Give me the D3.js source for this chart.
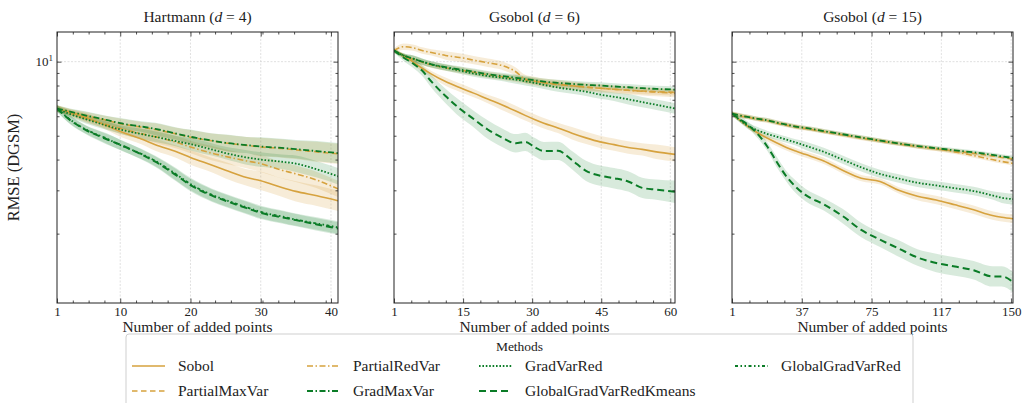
<!DOCTYPE html>
<html>
<head>
<meta charset="utf-8">
<script src="https://cdnjs.cloudflare.com/ajax/libs/d3/7.8.5/d3.min.js"></script>
<style>
  body { margin: 0; background: #fff; }
  svg text { font-family: "Liberation Serif", "Times New Roman", serif !important; fill: #222; }
</style>
</head>
<body>
<script>
// methods, in legend order
var methods = ["Sobol", "PartialMaxVar", "PartialRedVar", "GradMaxVar",
               "GradVarRed", "GlobalGradVarRedKmeans", "GlobalGradVarRed"];

var panelNames = ["Hartmann", "Gsobol", "Gsobol"];
var panelDims = ["4", "6", "15"];

// Hartmann (d = 4)
var xHartmann = [1, 3, 5, 8, 10, 13, 15, 18, 20, 23, 25, 28, 30, 33, 35, 38, 41];
var rmseHartmann = [
  [6.45, 6.2, 5.95, 5.5, 5.2, 4.85, 4.6, 4.3, 4.08, 3.8, 3.62, 3.38, 3.28, 3.08, 2.97, 2.85, 2.72],
  [6.45, 6.22, 6.02, 5.78, 5.6, 5.42, 5.3, 5.08, 4.93, 4.77, 4.67, 4.57, 4.5, 4.44, 4.38, 4.3, 4.22],
  [6.45, 6.15, 5.9, 5.55, 5.35, 5.1, 4.95, 4.7, 4.5, 4.25, 4.12, 3.95, 3.85, 3.62, 3.5, 3.3, 3.04],
  [6.45, 6.25, 6.05, 5.8, 5.62, 5.45, 5.33, 5.1, 4.95, 4.78, 4.68, 4.58, 4.52, 4.46, 4.41, 4.33, 4.25],
  [6.45, 6.1, 5.85, 5.5, 5.3, 5.08, 4.95, 4.75, 4.62, 4.4, 4.25, 4.08, 4.0, 3.92, 3.85, 3.65, 3.42],
  [6.45, 5.75, 5.3, 4.85, 4.6, 4.2, 3.92, 3.45, 3.15, 2.86, 2.72, 2.54, 2.43, 2.33, 2.27, 2.18, 2.1],
  [6.45, 5.78, 5.32, 4.88, 4.58, 4.22, 3.95, 3.48, 3.18, 2.88, 2.74, 2.56, 2.45, 2.35, 2.28, 2.2, 2.12]
];
// spread of the band, in percent
var sdHartmann = [
  [3, 3, 4, 4, 5, 5, 6, 6, 7, 7, 8, 8, 9, 9, 10, 10, 10],
  [3, 3, 4, 4, 5, 5, 6, 6, 7, 7, 8, 8, 9, 9, 9, 10, 10],
  [3, 3, 4, 4, 5, 5, 6, 6, 6, 7, 7, 7, 8, 8, 8, 8, 8],
  [3, 3, 4, 4, 5, 5, 6, 6, 7, 7, 8, 8, 9, 9, 9, 10, 10],
  [3, 3, 4, 4, 4, 5, 5, 5, 6, 6, 6, 7, 7, 7, 8, 8, 8],
  [3, 4, 4, 5, 5, 5, 5, 6, 6, 6, 6, 6, 6, 6, 6, 6, 6],
  [3, 4, 4, 5, 5, 5, 5, 6, 6, 6, 6, 6, 6, 6, 6, 6, 6]
];

// Gsobol (d = 6)
var xGsobol6 = [1, 3, 5, 7, 9, 12, 15, 18, 21, 24, 27, 29, 31, 33, 36, 39, 42, 45, 48, 51, 54, 57, 61];
var rmseGsobol6 = [
  [11.1, 10.6, 10.0, 9.4, 8.9, 8.3, 7.85, 7.45, 7.05, 6.68, 6.3, 6.05, 5.82, 5.62, 5.38, 5.12, 4.9, 4.72, 4.6, 4.48, 4.4, 4.3, 4.2],
  [11.1, 10.55, 10.25, 9.95, 9.7, 9.45, 9.25, 9.05, 8.85, 8.68, 8.52, 8.42, 8.32, 8.2, 8.08, 7.98, 7.88, 7.8, 7.72, 7.65, 7.6, 7.55, 7.5],
  [11.1, 11.5, 11.4, 11.1, 10.9, 10.6, 10.4, 10.15, 9.9, 9.65, 9.1, 8.5, 8.35, 8.22, 8.1, 7.98, 7.88, 7.8, 7.72, 7.65, 7.58, 7.52, 7.45],
  [11.1, 10.6, 10.3, 10.0, 9.75, 9.5, 9.3, 9.1, 8.9, 8.75, 8.6, 8.5, 8.4, 8.3, 8.2, 8.12, 8.05, 8.0, 7.93, 7.87, 7.8, 7.75, 7.7],
  [11.1, 10.6, 10.3, 10.0, 9.75, 9.45, 9.2, 8.95, 8.75, 8.6, 8.45, 8.33, 8.2, 8.05, 7.85, 7.7, 7.55, 7.35, 7.2, 7.03, 6.85, 6.68, 6.45],
  [11.1, 10.4, 9.85, 9.2, 8.3, 7.25, 6.45, 5.85, 5.3, 4.92, 4.66, 4.72, 4.5, 4.33, 4.34, 3.98, 3.6, 3.44, 3.36, 3.26, 3.07, 3.02, 2.96],
  null
];
var sdGsobol6 = [
  [2, 2, 3, 3, 3, 4, 4, 4, 4, 5, 5, 5, 5, 5, 5, 6, 6, 6, 6, 6, 6, 7, 7],
  [2, 2, 3, 3, 3, 3, 3, 3, 3, 3, 3, 3, 3, 3, 3, 3, 3, 3, 3, 3, 3, 3, 3],
  [2, 3, 3, 3, 3, 4, 4, 4, 4, 4, 4, 4, 4, 4, 4, 4, 4, 4, 4, 4, 4, 4, 4],
  [2, 2, 3, 3, 3, 3, 3, 3, 3, 3, 3, 3, 3, 3, 3, 3, 3, 3, 3, 3, 3, 3, 3],
  [2, 2, 3, 3, 3, 3, 3, 3, 3, 3, 4, 4, 4, 4, 4, 4, 4, 4, 4, 5, 5, 5, 5],
  [2, 3, 4, 5, 6, 7, 8, 8, 9, 9, 9, 9, 9, 9, 9, 9, 10, 10, 10, 10, 10, 10, 11],
  null
];

// Gsobol (d = 15)
var xGsobol15 = [1, 5, 10, 15, 20, 25, 30, 35, 40, 50, 60, 70, 80, 90, 100, 110, 120, 130, 140, 145, 151];
var rmseGsobol15 = [
  [6.15, 5.8, 5.42, 5.12, 4.88, 4.67, 4.48, 4.33, 4.2, 3.95, 3.62, 3.36, 3.26, 3.0, 2.84, 2.74, 2.62, 2.5, 2.37, 2.33, 2.3],
  [6.15, 6.03, 5.93, 5.83, 5.75, 5.62, 5.52, 5.42, 5.35, 5.19, 5.04, 4.89, 4.76, 4.63, 4.52, 4.42, 4.33, 4.24, 4.14, 4.08, 4.02],
  [6.15, 6.06, 5.96, 5.86, 5.78, 5.66, 5.56, 5.46, 5.38, 5.22, 5.06, 4.91, 4.78, 4.65, 4.53, 4.42, 4.3, 4.15, 4.0, 3.93, 3.86],
  [6.15, 6.05, 5.95, 5.85, 5.78, 5.65, 5.55, 5.45, 5.38, 5.22, 5.07, 4.92, 4.78, 4.65, 4.54, 4.45, 4.36, 4.28, 4.18, 4.12, 4.06],
  [6.15, 5.8, 5.45, 5.25, 5.08, 4.95, 4.82, 4.7, 4.56, 4.3, 4.0, 3.72, 3.5, 3.35, 3.22, 3.14, 3.06, 2.98, 2.86, 2.8, 2.76],
  [6.15, 5.85, 5.5, 5.05, 4.5, 3.9, 3.42, 3.1, 2.88, 2.63, 2.36, 2.07, 1.89, 1.74, 1.6, 1.52, 1.47, 1.42, 1.34, 1.34, 1.27],
  null
];
var sdGsobol15 = [
  [2, 2, 2, 3, 3, 3, 3, 3, 3, 3, 3, 3, 3, 3, 4, 4, 4, 4, 4, 4, 4],
  [2, 2, 2, 2, 2, 2, 2, 2, 2, 2, 2, 2, 2, 2, 2, 2, 2, 2, 2, 2, 2],
  [2, 2, 2, 2, 2, 2, 2, 2, 2, 2, 2, 2, 2, 2, 2, 2, 2, 2, 2, 2, 2],
  [2, 2, 2, 2, 2, 2, 2, 2, 2, 2, 2, 2, 2, 2, 2, 2, 2, 2, 2, 2, 2],
  [2, 2, 3, 3, 3, 3, 3, 3, 4, 4, 4, 4, 4, 4, 4, 4, 4, 4, 4, 5, 5],
  [2, 3, 3, 4, 4, 5, 5, 6, 6, 6, 7, 7, 7, 8, 8, 9, 9, 9, 10, 10, 10],
  null
];

// x ticks (positions and their printed labels)
var xTicksHartmann = [1, 10, 20, 30, 40];
var xLabelsHartmann = ["1", "10", "20", "30", "40"];
var xTicksGsobol6 = [1, 15.75, 30.5, 45.25, 60];
var xLabelsGsobol6 = ["1", "15", "30", "45", "60"];
var xTicksGsobol15 = [1, 38.25, 75.5, 112.75, 150];
var xLabelsGsobol15 = ["1", "37", "75", "117", "150"];
var xMaxes = [41, 61, 151];
var yMajor = [10];
var yMinor = [2, 3, 4, 5, 6, 7, 8, 9];

var FONT = "'Liberation Serif', 'Times New Roman', serif";

function drawChart () {
  var ORANGE = "#d6a23e", GREEN = "#0b7c27";
  var styles = [
    { c: ORANGE, dash: null, w: 1.6 },
    { c: ORANGE, dash: "5.5,3.5", w: 1.6 },
    { c: ORANGE, dash: "6,2.5,1.5,2.5", w: 1.6 },
    { c: GREEN, dash: "6,2.5,1.5,2.5", w: 1.8 },
    { c: GREEN, dash: "1.6,1.8", w: 1.8 },
    { c: GREEN, dash: "7,4", w: 2 },
    { c: GREEN, dash: "3,2.5,1.5,2.5,1.5,2.5", w: 1.8 }
  ];

  var width = 1023, height = 403;
  var plotTop = 32, plotBottom = 303, plotW = 281;
  var lefts = [57, 394, 732];

  var panels = [
    { x: xHartmann, v: rmseHartmann, sd: sdHartmann, ticks: xTicksHartmann, labels: xLabelsHartmann, minorStep: 2.25 },
    { x: xGsobol6, v: rmseGsobol6, sd: sdGsobol6, ticks: xTicksGsobol6, labels: xLabelsGsobol6, minorStep: 14.75 / 4 },
    { x: xGsobol15, v: rmseGsobol15, sd: sdGsobol15, ticks: xTicksGsobol15, labels: xLabelsGsobol15, minorStep: 37.25 / 4 }
  ];

  var svg = d3.select("body").append("svg")
      .attr("width", width)
      .attr("height", height)
      .attr("font-family", FONT);

  var y = d3.scaleLog().domain([1.045, 13.2]).range([plotBottom, plotTop]);

  function minorTicks (start, step, max) {
    var out = [];
    for (var k = 1; start + k * step < max; k = k + 1) {
      if (k % 4 !== 0) out.push(start + k * step);
    }
    return out;
  }

  // tick-only axis (no labels)
  function tickAxis (g, axis, size) {
    g.call(axis.tickFormat("").tickSizeInner(-size).tickSizeOuter(0));
    g.selectAll("text").remove();
    g.select(".domain").remove();
  }

  panels.forEach(function (p, i) {
    var left = lefts[i];
    var x = d3.scaleLinear().domain([1, xMaxes[i]]).range([left, left + plotW]);
    var g = svg.append("g");

    g.append("clipPath").attr("id", "clip" + i)
      .append("rect").attr("x", left).attr("y", plotTop).attr("width", plotW).attr("height", plotBottom - plotTop);

    // grid
    g.append("g").selectAll("line").data(p.ticks.slice(1)).enter().append("line")
      .attr("x1", function (d) { return x(d); }).attr("x2", function (d) { return x(d); })
      .attr("y1", plotTop).attr("y2", plotBottom)
      .attr("stroke", "#d4d4d4").attr("stroke-width", 0.7).attr("stroke-dasharray", "2,1.5");
    g.append("g").selectAll("line").data(yMajor).enter().append("line")
      .attr("x1", left).attr("x2", left + plotW)
      .attr("y1", function (d) { return y(d); }).attr("y2", function (d) { return y(d); })
      .attr("stroke", "#d4d4d4").attr("stroke-width", 0.7).attr("stroke-dasharray", "2,1.5");

    var plot = g.append("g").attr("clip-path", "url(#clip" + i + ")");

    // bands
    p.v.forEach(function (vals, k) {
      if (!vals) return;
      var rows = p.x.map(function (xv, j) { return { x: xv, v: vals[j], s: p.sd[k][j] / 100 }; });
      var area = d3.area()
        .x(function (d) { return x(d.x); })
        .y0(function (d) { return y(d.v / (1 + d.s)); })
        .y1(function (d) { return y(d.v * (1 + d.s)); })
        .curve(d3.curveMonotoneX);
      plot.append("path").datum(rows)
        .attr("d", area)
        .attr("fill", styles[k].c)
        .attr("fill-opacity", styles[k].c === GREEN ? 0.16 : 0.2);
    });

    // lines
    p.v.forEach(function (vals, k) {
      if (!vals) return;
      var rows = p.x.map(function (xv, j) { return { x: xv, v: vals[j] }; });
      var line = d3.line()
        .x(function (d) { return x(d.x); })
        .y(function (d) { return y(d.v); })
        .curve(d3.curveMonotoneX);
      plot.append("path").datum(rows)
        .attr("d", line)
        .attr("fill", "none")
        .attr("stroke", styles[k].c)
        .attr("stroke-width", styles[k].w)
        .attr("stroke-dasharray", styles[k].dash);
    });

    // axes: ticks pointing inward on all sides
    var minors = minorTicks(p.ticks[0], p.minorStep, xMaxes[i]);
    var bottomAx = g.append("g").attr("transform", "translate(0," + plotBottom + ")")
      .call(d3.axisBottom(x).tickValues(p.ticks)
        .tickFormat(function (d, j) { return p.labels[j]; })
        .tickSizeInner(-4.5).tickSizeOuter(0).tickPadding(4));
    bottomAx.select(".domain").remove();
    bottomAx.attr("font-family", FONT).attr("font-size", 13);
    bottomAx.selectAll("text").attr("fill", "#222");

    tickAxis(g.append("g").attr("transform", "translate(0," + plotBottom + ")"), d3.axisBottom(x).tickValues(minors), 2.5);
    tickAxis(g.append("g").attr("transform", "translate(0," + plotTop + ")"), d3.axisTop(x).tickValues(p.ticks), 4.5);
    tickAxis(g.append("g").attr("transform", "translate(0," + plotTop + ")"), d3.axisTop(x).tickValues(minors), 2.5);
    tickAxis(g.append("g").attr("transform", "translate(" + left + ",0)"), d3.axisLeft(y).tickValues(yMajor), 4.5);
    tickAxis(g.append("g").attr("transform", "translate(" + left + ",0)"), d3.axisLeft(y).tickValues(yMinor), 2.5);
    tickAxis(g.append("g").attr("transform", "translate(" + (left + plotW) + ",0)"), d3.axisRight(y).tickValues(yMajor), 4.5);
    tickAxis(g.append("g").attr("transform", "translate(" + (left + plotW) + ",0)"), d3.axisRight(y).tickValues(yMinor), 2.5);

    g.selectAll(".tick line").attr("stroke", "#222").attr("stroke-width", 0.8);

    g.append("rect").attr("x", left).attr("y", plotTop).attr("width", plotW).attr("height", plotBottom - plotTop)
      .attr("fill", "none").attr("stroke", "#222").attr("stroke-width", 1);

    // title
    var t = g.append("text").attr("x", left + plotW / 2).attr("y", 22)
      .attr("text-anchor", "middle").attr("font-size", "15.5px").attr("font-family", FONT);
    t.append("tspan").text(panelNames[i] + " (");
    t.append("tspan").attr("font-style", "italic").text("d");
    t.append("tspan").text(" = " + panelDims[i] + ")");

    g.append("text").attr("x", left + plotW / 2).attr("y", 332)
      .attr("text-anchor", "middle").attr("font-size", "15.5px").attr("font-family", FONT)
      .text("Number of added points");

    if (i === 0) {
      var lab = g.append("text").attr("x", left - 4).attr("y", y(10) + 4.5)
        .attr("text-anchor", "end").attr("font-size", "13px").attr("font-family", FONT);
      lab.append("tspan").text("10");
      lab.append("tspan").attr("dy", -5.5).attr("font-size", "9px").text("1");
      g.append("text")
        .attr("transform", "translate(19," + ((plotTop + plotBottom) / 2) + ") rotate(-90)")
        .attr("text-anchor", "middle").attr("font-size", "16.5px").attr("font-family", FONT)
        .text("RMSE (DGSM)");
    }
  });

  // legend
  var legend = svg.append("g");
  legend.append("rect").attr("x", 126).attr("y", 334).attr("width", 787).attr("height", 80)
    .attr("rx", 3).attr("fill", "#fff").attr("fill-opacity", 0.8)
    .attr("stroke", "#cfcfcf").attr("stroke-width", 1);
  legend.append("text").attr("x", 519.5).attr("y", 350.5).attr("text-anchor", "middle")
    .attr("font-size", "13.5px").attr("font-family", FONT).text("Methods");
  var colX = [132, 307, 479, 735];
  var rowY = [366, 391];
  methods.forEach(function (m, k) {
    var cx = colX[Math.floor(k / 2)], cy = rowY[k % 2];
    legend.append("line").attr("x1", cx).attr("x2", cx + 33).attr("y1", cy).attr("y2", cy)
      .attr("stroke", styles[k].c).attr("stroke-width", styles[k].w)
      .attr("stroke-dasharray", styles[k].dash);
    legend.append("text").attr("x", cx + 46).attr("y", cy + 5)
      .attr("font-size", "15.5px").attr("font-family", FONT).text(m);
  });
}

drawChart();
</script>
</body>
</html>
